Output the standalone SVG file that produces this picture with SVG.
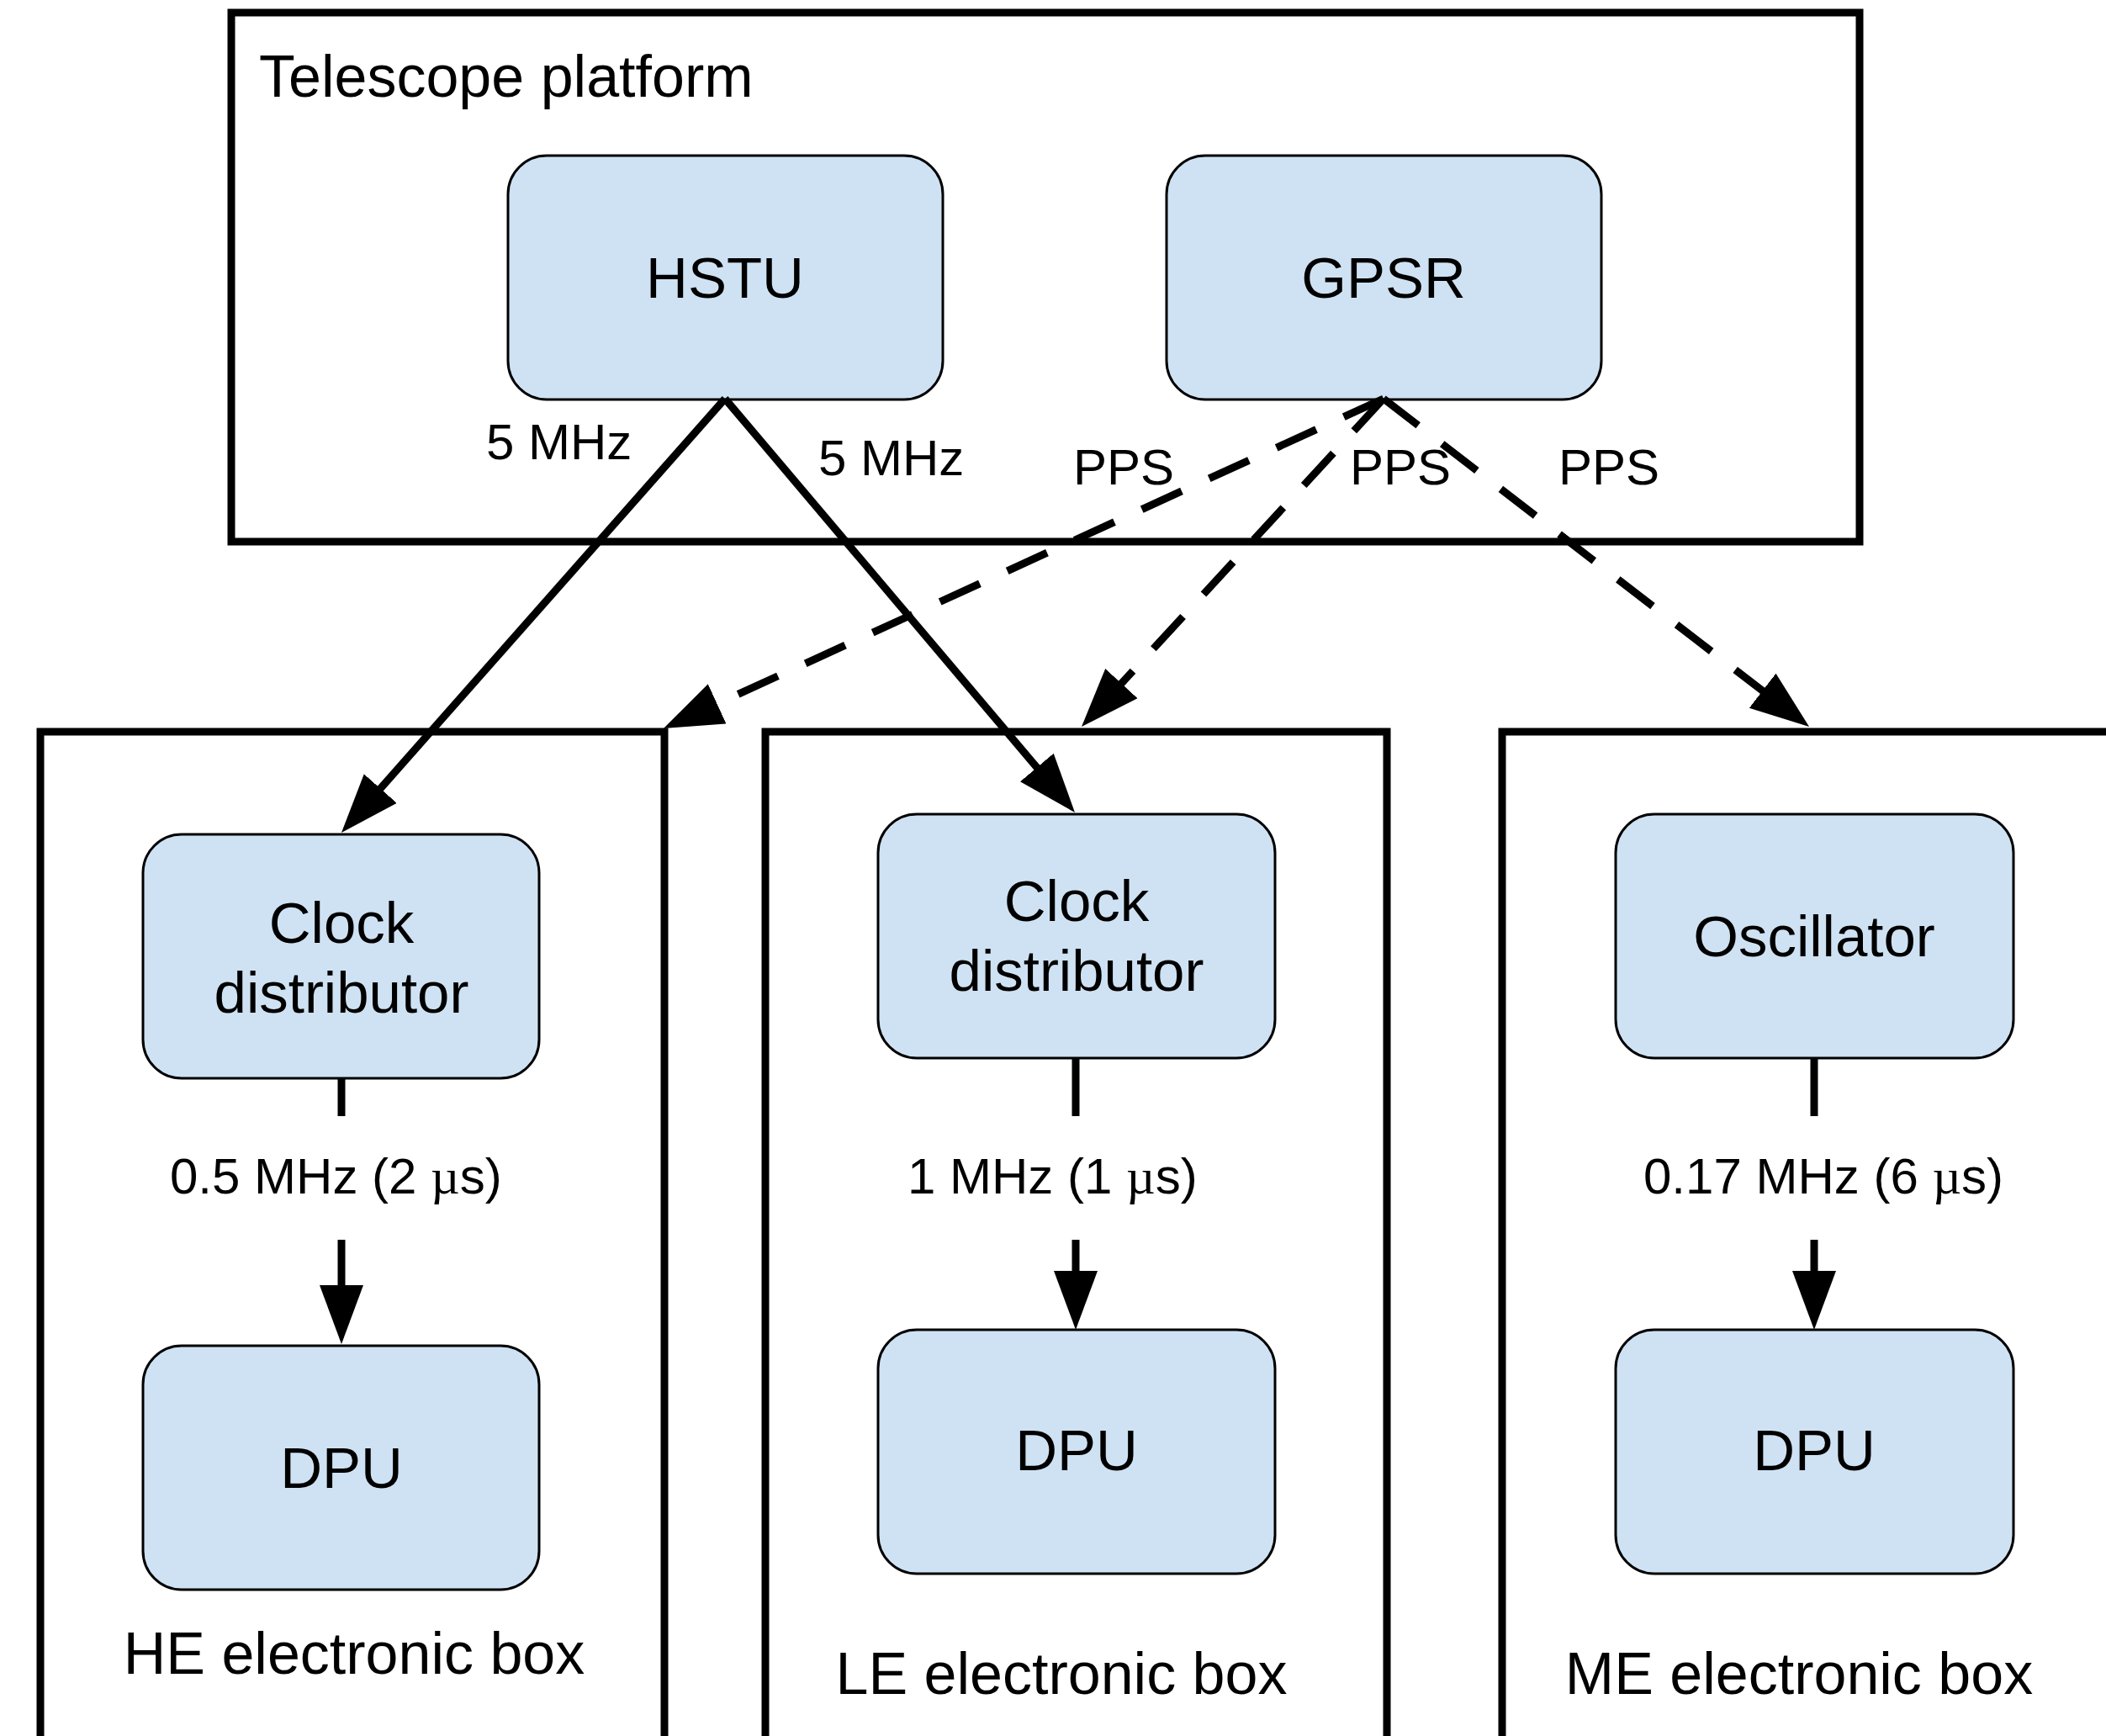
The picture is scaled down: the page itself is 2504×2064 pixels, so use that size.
<svg xmlns="http://www.w3.org/2000/svg" width="2504" height="2064" viewBox="0 0 2504 2064">
  <style>
    .frame { fill: none; stroke: #000; stroke-width: 9; stroke-linejoin: miter; }
    .node { fill: #cfe2f3; stroke: #000; stroke-width: 3; }
    .title { font-family: "Liberation Sans", Arial, sans-serif; font-size: 70px; fill: #000; }
    .ntext { font-family: "Liberation Sans", Arial, sans-serif; font-size: 69px; fill: #000; text-anchor: middle; }
    .btext { font-family: "Liberation Sans", Arial, sans-serif; font-size: 70px; fill: #000; text-anchor: middle; }
    .lbl { font-family: "Liberation Sans", Arial, sans-serif; font-size: 60px; fill: #000; }
    .mu { font-family: "Liberation Serif", "Times New Roman", serif; }
    .wire { fill: none; stroke: #000; stroke-width: 9; }
    .solid { marker-end: url(#head); }
    .dash { stroke-dasharray: 52 36; marker-end: url(#head); }
  </style>
  <defs>
    <marker id="head" markerUnits="userSpaceOnUse" markerWidth="72" markerHeight="54" refX="50" refY="26" orient="auto">
      <path d="M0,0 L70,26 L0,52 Z" fill="#000"/>
    </marker>
  </defs>

  <rect width="2504" height="2064" fill="#fff"/>

  <!-- containers -->
  <g id="telescope-platform">
    <rect class="frame" x="275" y="15" width="1936" height="629"/>
    <text class="title" x="308" y="115">Telescope platform</text>
  </g>
  <g id="he-box">
    <path class="frame" d="M48,2080 L48,870 L790,870 L790,2080"/>
    <text class="btext" x="421" y="1990">HE electronic box</text>
  </g>
  <g id="le-box">
    <path class="frame" d="M910,2080 L910,870 L1649,870 L1649,2080"/>
    <text class="btext" x="1262" y="2014">LE electronic box</text>
  </g>
  <g id="me-box">
    <path class="frame" d="M1786,2080 L1786,870 L2520,870"/>
    <text class="btext" x="2139" y="2014">ME electronic box</text>
  </g>

  <!-- nodes -->
  <g id="hstu">
    <rect class="node" x="604" y="185" width="517" height="290" rx="46" ry="46"/>
    <text class="ntext" x="862" y="354">HSTU</text>
  </g>
  <g id="gpsr">
    <rect class="node" x="1387" y="185" width="517" height="290" rx="46" ry="46"/>
    <text class="ntext" x="1645" y="354">GPSR</text>
  </g>
  <g id="he-clock">
    <rect class="node" x="170" y="992" width="471" height="290" rx="46" ry="46"/>
    <text class="ntext" x="406" y="1121">Clock</text>
    <text class="ntext" x="406" y="1204">distributor</text>
  </g>
  <g id="le-clock">
    <rect class="node" x="1044" y="968" width="472" height="290" rx="46" ry="46"/>
    <text class="ntext" x="1280" y="1095">Clock</text>
    <text class="ntext" x="1280" y="1178">distributor</text>
  </g>
  <g id="me-oscillator">
    <rect class="node" x="1921" y="968" width="473" height="290" rx="46" ry="46"/>
    <text class="ntext" x="2157" y="1137">Oscillator</text>
  </g>
  <g id="he-dpu">
    <rect class="node" x="170" y="1600" width="471" height="290" rx="46" ry="46"/>
    <text class="ntext" x="406" y="1769">DPU</text>
  </g>
  <g id="le-dpu">
    <rect class="node" x="1044" y="1581" width="472" height="290" rx="46" ry="46"/>
    <text class="ntext" x="1280" y="1748">DPU</text>
  </g>
  <g id="me-dpu">
    <rect class="node" x="1921" y="1581" width="473" height="290" rx="46" ry="46"/>
    <text class="ntext" x="2157" y="1748">DPU</text>
  </g>

  <!-- connectors -->
  <g id="connectors">
    <!-- 5 MHz reference from HSTU -->
    <path class="wire solid" d="M862,474 L419.2,975"/>
    <path class="wire solid" d="M862,474 L1265.1,950.7"/>
    <!-- PPS from GPSR -->
    <path class="wire dash" d="M1645,474 L807.2,857.7"/>
    <path class="wire dash" d="M1645,474 L1299.5,849.3"/>
    <path class="wire dash" d="M1645,474 L2135.2,851.8"/>
    <!-- local clocks to DPUs -->
    <path class="wire" d="M406,1282 L406,1327"/>
    <path class="wire solid" d="M406,1474 L406,1578"/>
    <path class="wire" d="M1279,1258 L1279,1327"/>
    <path class="wire solid" d="M1279,1474 L1279,1561"/>
    <path class="wire" d="M2157,1258 L2157,1327"/>
    <path class="wire solid" d="M2157,1474 L2157,1561"/>

    <text class="lbl" x="578" y="546">5 MHz</text>
    <text class="lbl" x="973" y="565">5 MHz</text>
    <text class="lbl" x="1276" y="576">PPS</text>
    <text class="lbl" x="1605" y="576">PPS</text>
    <text class="lbl" x="1853" y="576">PPS</text>
    <text class="lbl" x="202" y="1419">0.5 MHz (2 <tspan class="mu">µ</tspan>s)</text>
    <text class="lbl" x="1079" y="1419">1 MHz (1 <tspan class="mu">µ</tspan>s)</text>
    <text class="lbl" x="1954" y="1419">0.17 MHz (6 <tspan class="mu">µ</tspan>s)</text>
  </g>
</svg>
